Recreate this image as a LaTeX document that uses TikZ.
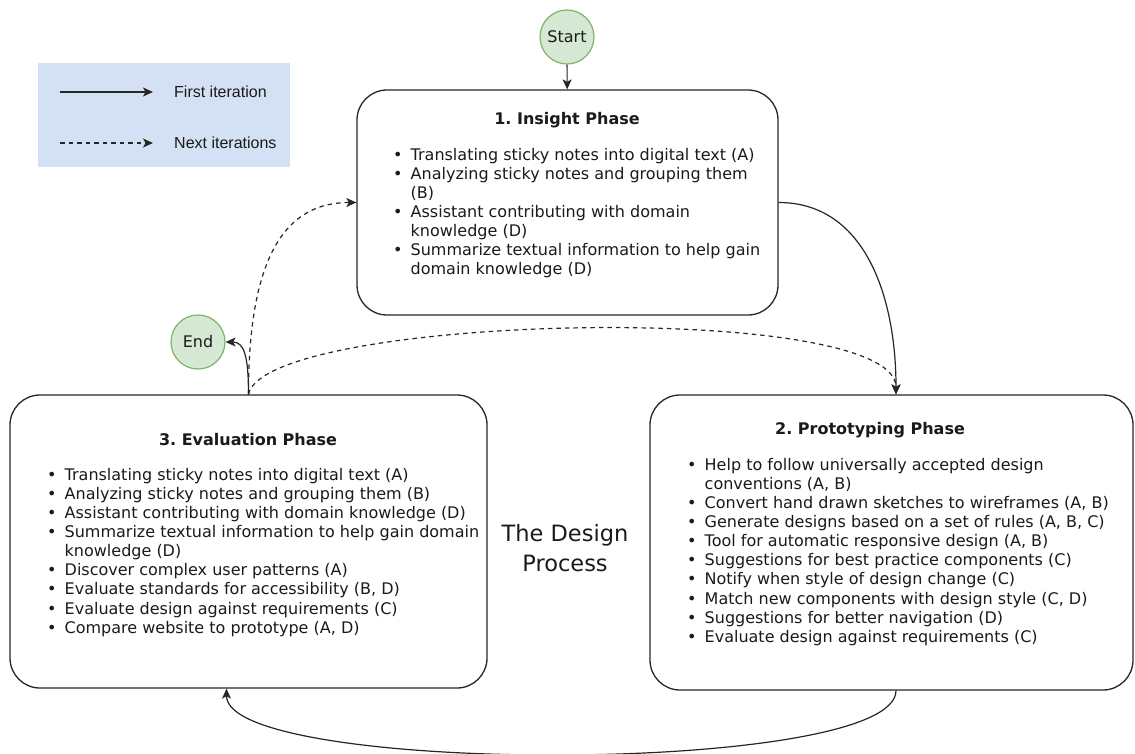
\documentclass[tikz,border=0pt]{standalone}
\usepackage{fontspec}
\setmainfont{DejaVu Sans}
\newfontfamily\legendfont{Liberation Sans}
\usetikzlibrary{arrows.meta,calc}
\definecolor{ink}{HTML}{1A1A1A}
\definecolor{edge}{HTML}{262626}
\definecolor{gfill}{HTML}{D5E8D4}
\definecolor{gline}{HTML}{82B366}
\definecolor{lfill}{HTML}{D4E1F5}
\newcommand{\bl}[1]{\makebox[17.5pt][l]{•}#1}
\newcommand{\cl}[1]{\hspace*{17.5pt}#1}
\frenchspacing
\begin{document}
\begin{tikzpicture}[x=1pt,y=-1pt,
  phase/.style={draw=edge, line width=1.3pt, rounded corners=30pt, inner sep=0},
  term/.style={circle, draw=gline, fill=gfill, line width=1.2pt, minimum size=54pt, inner sep=0, font=\fontsize{16}{18}\selectfont, text=ink},
  flow/.style={draw=edge, line width=1.2pt, -{Stealth[length=10pt,width=9pt,inset=2.5pt]}},
  next/.style={flow, dash pattern=on 4.5pt off 4pt},
  title/.style={font=\bfseries\fontsize{16}{18}\selectfont, text=ink},
  list/.style={align=left, anchor=north west, inner sep=0, text=ink, font=\fontsize{16}{19.1}\selectfont},
  legtext/.style={anchor=west, inner sep=0, text=ink, font=\legendfont\fontsize{16}{18}\selectfont}]
\useasboundingbox (0,0) rectangle (1135,754);

% legend
\node[fill=lfill, minimum width=252pt, minimum height=104pt, inner sep=0] (legend) at (164,115) {};
\coordinate (l1a) at (60,92);
\coordinate (l1b) at (153,92);
\coordinate (l2a) at (60,143);
\coordinate (l2b) at (153,143);
\draw[flow] (l1a) -- (l1b);
\draw[next] (l2a) -- (l2b);
\node[legtext] (lt1) at (174,92) {First iteration};
\node[legtext] (lt2) at (174,143) {Next iterations};

% phases
\node[phase, minimum width=421pt, minimum height=225pt] (insight) at (567.5,202.5) {};
\node[phase, minimum width=477pt, minimum height=293pt] (eval) at (248.5,541.5) {};
\node[phase, minimum width=483pt, minimum height=295pt] (proto) at (891.5,542.5) {};

\node[title] (t1) at (567,120) {1. Insight Phase};
\node[title] (t3) at (248,440) {3. Evaluation Phase};
\node[title] (t2) at (870,430) {2. Prototyping Phase};

\node[list] (l1) at (393,148) {%
\bl{Translating sticky notes into digital text (A)}\\
\bl{Analyzing sticky notes and grouping them}\\
\cl{(B)}\\
\bl{Assistant contributing with domain}\\
\cl{knowledge (D)}\\
\bl{Summarize textual information to help gain}\\
\cl{domain knowledge (D)}};

\node[list] (l3) at (47,468) {%
\bl{Translating sticky notes into digital text (A)}\\
\bl{Analyzing sticky notes and grouping them (B)}\\
\bl{Assistant contributing with domain knowledge (D)}\\
\bl{Summarize textual information to help gain domain}\\
\cl{knowledge (D)}\\
\bl{Discover complex user patterns (A)}\\
\bl{Evaluate standards for accessibility (B, D)}\\
\bl{Evaluate design against requirements (C)}\\
\bl{Compare website to prototype (A, D)}};

\node[list] (l2) at (687,458) {%
\bl{Help to follow universally accepted design}\\
\cl{conventions (A, B)}\\
\bl{Convert hand drawn sketches to wireframes (A, B)}\\
\bl{Generate designs based on a set of rules (A, B, C)}\\
\bl{Tool for automatic responsive design (A, B)}\\
\bl{Suggestions for best practice components (C)}\\
\bl{Notify when style of design change (C)}\\
\bl{Match new components with design style (C, D)}\\
\bl{Suggestions for better navigation (D)}\\
\bl{Evaluate design against requirements (C)}};

\node[font=\fontsize{22.5}{30}\selectfont, align=center, text=ink] (dp) at (565,548) {The Design\\Process};

% terminals
\node[term] (start) at (567,37) {Start};
\node[term] (end) at (198,342) {End};

% connectors
\coordinate (pt) at ([xshift=4.5pt]proto.north);
\coordinate (pb) at ([xshift=4.5pt]proto.south);
\coordinate (eb) at ([xshift=-22pt]eval.south);
\draw[flow] (start) -- (insight);
\draw[flow] (insight.east) .. controls +(85,0) and +(0,-100) .. (pt);
\draw[flow] (eval.north) .. controls +(0,-40) and +(18,0) .. (end.east);
\draw[next] (eval.north) .. controls +(0,-140) and +(-70,0) .. (insight.west);
\draw[next] (eval.north) .. controls +(16,-80) and +(0,-95) .. (pt);
\draw[flow] (pb) .. controls +(0,85) and +(0,87) .. (eb);
\end{tikzpicture}
\end{document}
